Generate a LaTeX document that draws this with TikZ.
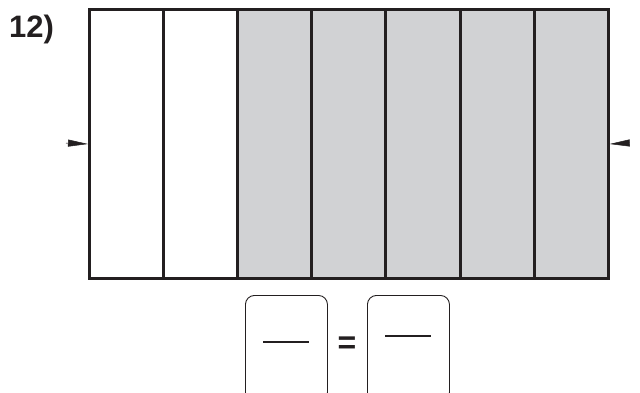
\documentclass[tikz,border=0pt]{standalone}
\usepackage{fontspec}
\setmainfont{Liberation Sans}
\usetikzlibrary{arrows.meta,positioning}
\definecolor{inkgray}{HTML}{231F20}
\definecolor{shade}{HTML}{D1D2D4}
\tikzset{
  cell/.style={rectangle, draw=inkgray, line width=3pt, minimum width=74.1pt, minimum height=269pt, inner sep=0pt, anchor=north west},
  shaded/.style={cell, fill=shade},
  answer/.style={rectangle, draw=inkgray, line width=0.9pt, rounded corners=9pt, minimum width=82pt, minimum height=106pt, inner sep=0pt, anchor=north west},
  marker/.style={-{Triangle[length=20pt,width=7pt]}, line width=0.5pt, draw=inkgray, fill=inkgray},
  bar/.style={draw=inkgray, line width=2pt},
  label/.style={font=\fontsize{31}{31}\selectfont\bfseries, text=inkgray, inner sep=0pt}
}
\begin{document}
\begin{tikzpicture}[x=1pt, y=-1pt]
  \useasboundingbox (0,0) rectangle (640,392);
  \node[label, anchor=base west] (num) at (9,37) {12)};
  % fraction strip
  \foreach \i/\s in {1/cell,2/cell,3/shaded,4/shaded,5/shaded,6/shaded,7/shaded}
    \node[\s] (c\i) at ({88+74.1*(\i-1)},8) {};
  \coordinate (ml) at (66,143);
  \coordinate (mr) at (629,143);
  \draw[marker] (ml) -- (c1.west);
  \draw[marker] (mr) -- (c7.east);
  % answer boxes
  \node[answer] (b1) at (245,295) {};
  \node[answer] (b2) at (367,295) {};
  \node[font=\fontsize{32}{32}\selectfont\bfseries, text=inkgray, inner sep=0pt] (eq) at (347,345) {=};
  \draw[bar] (263,342) -- (309,342);
  \draw[bar] (385,336) -- (431,336);
\end{tikzpicture}
\end{document}
